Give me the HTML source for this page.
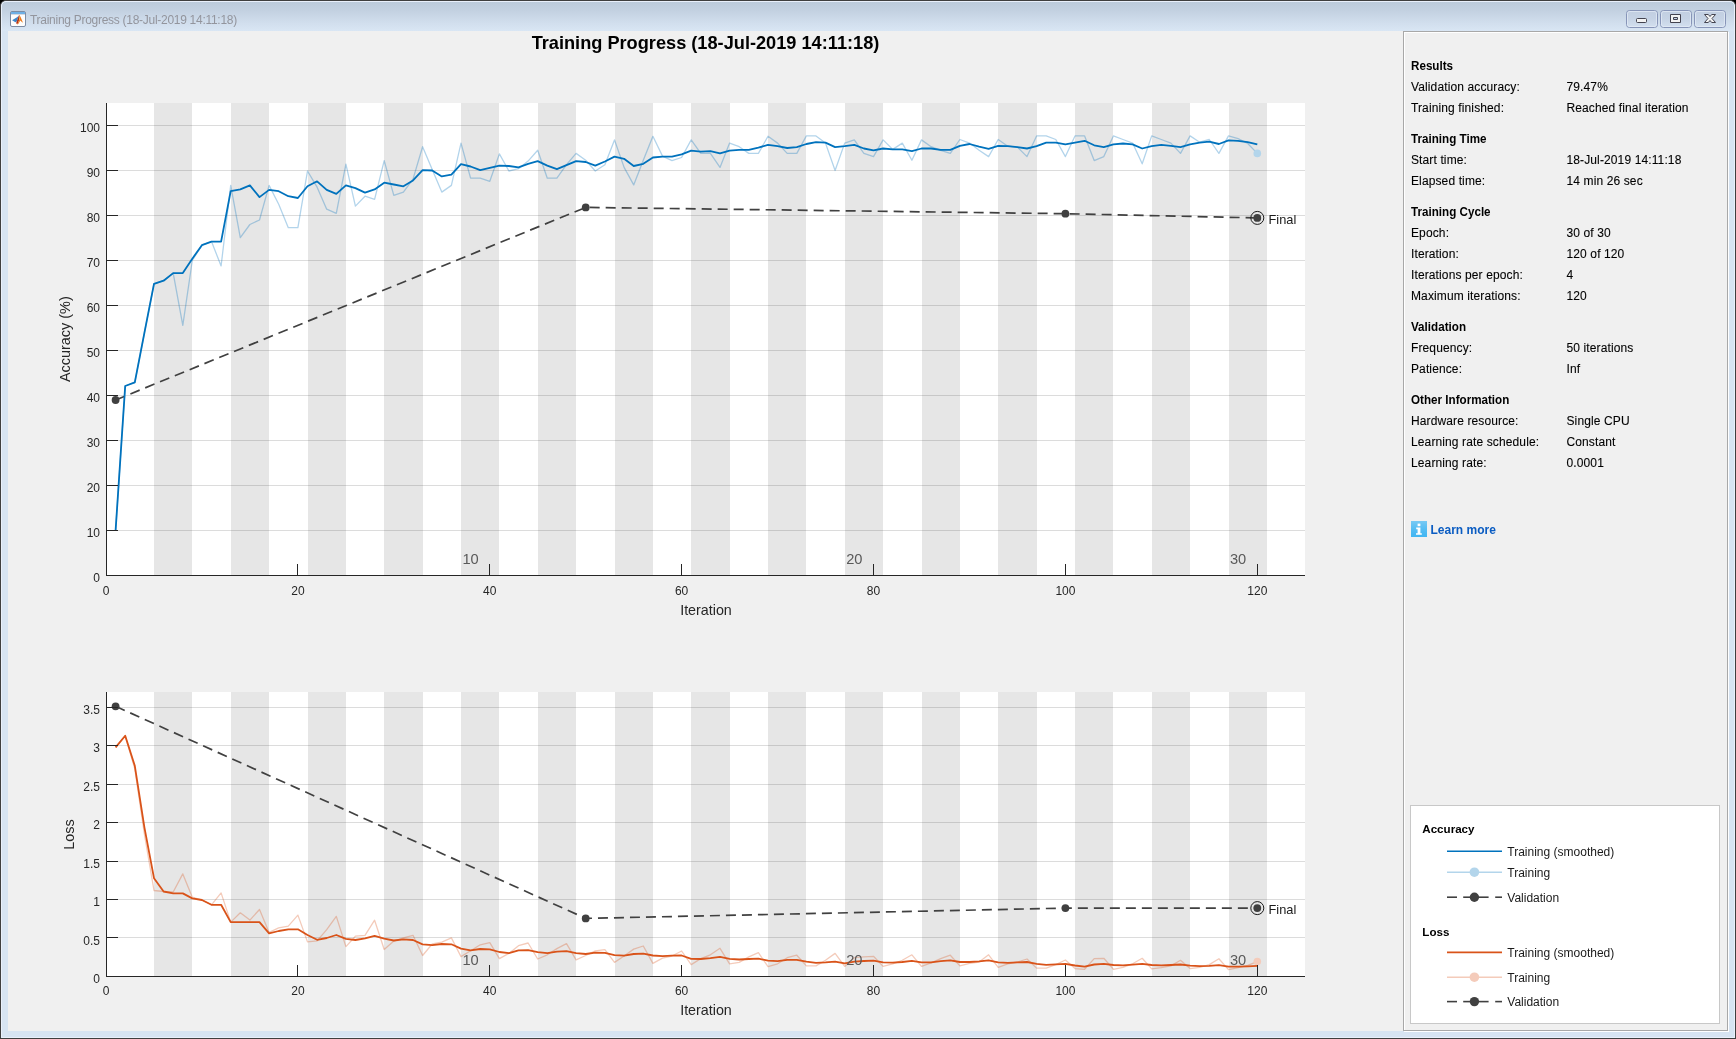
<!DOCTYPE html>
<html><head><meta charset="utf-8"><title>Training Progress</title>
<style>
html,body{margin:0;padding:0;}
body{width:1736px;height:1039px;overflow:hidden;background:#000;font-family:"Liberation Sans",sans-serif;position:relative;}
#win{position:absolute;left:0;top:0;width:1734px;height:1037px;border:1px solid #3f3f3f;border-radius:6px 6px 0 0;background:#d7e4f2;overflow:hidden;}
#hl{position:absolute;left:0;top:0;width:1732px;height:1035px;border:1px solid #e9f0fb;border-radius:5px 5px 0 0;}
#tb{position:absolute;left:1px;top:1px;width:1732px;height:29px;background:linear-gradient(#bccbdb 0%,#c3d1e1 30%,#d2dfee 75%,#d9e6f4 100%);}
#content{position:absolute;left:7px;top:30px;width:1720px;height:1000px;background:#f0f0f0;}
#ttl{position:absolute;left:29px;top:12px;font-size:12px;line-height:14px;color:#93959d;white-space:nowrap;letter-spacing:-0.28px;}
#pn1{position:absolute;left:1402px;top:30px;width:323px;height:998px;border:1px solid #a8a8a8;}
#pn2{position:absolute;left:1403px;top:31px;width:323px;height:998px;border:1px solid #fff;}
svg{position:absolute;left:0;top:0;will-change:transform;}
#ttl{will-change:transform;}
</style></head><body>
<div id="win">
<div id="tb"></div>
<div id="hl"></div>
<div id="content"></div>
<div id="pn2"></div><div id="pn1"></div>
<div id="ttl">Training Progress (18-Jul-2019 14:11:18)</div>

</div>
<svg width="1736" height="1039" viewBox="0 0 1736 1039">
<defs><linearGradient id="bg" x1="0" y1="0" x2="0" y2="1"><stop offset="0" stop-color="#c2cfe1"/><stop offset=".5" stop-color="#c6d3e5"/><stop offset="1" stop-color="#d3e0ef"/></linearGradient><linearGradient id="ig" x1="0" y1="0" x2="0" y2="1"><stop offset="0" stop-color="#fff" stop-opacity=".25"/><stop offset="1" stop-color="#0af" stop-opacity=".15"/></linearGradient></defs>
<g>
<rect x="10.5" y="11.5" width="15" height="15" rx="1.5" fill="#fdfdfd" stroke="#7d8ca3" stroke-width="1"/>
<rect x="11" y="12" width="14" height="2" fill="#6eb0e6"/>
<rect x="11" y="14" width="14" height="0.6" fill="#8a98ad" opacity=".6"/>
<path d="M12.1 20.2 L17.4 16.9 L18.9 15.4 L16.7 21.6 L15.4 22.3 Z" fill="#3f86c8"/>
<path d="M16.7 21.6 L18.9 15.4 L19.5 15 L19.4 19.6 L17.4 24.2 L16.1 23.2 Z" fill="#b4321b"/>
<path d="M19.5 15 L20.7 17.2 L23 22.7 L21.6 21.7 L20.3 20.4 L18.6 23.5 L17.2 24.7 L17.4 24.2 L19.4 19.6 Z" fill="#ec7a1c"/>
<path d="M19.4 16 L20 19.8 L19.2 20.4 Z" fill="#f9c233"/>
</g>
<g stroke="#8795b8" stroke-width="1" fill="url(#bg)">
<rect x="1626.5" y="10.5" width="31" height="17" rx="3"/><rect x="1660.5" y="10.5" width="31" height="17" rx="3"/><rect x="1694.5" y="10.5" width="31" height="17" rx="3"/>
</g>
<g stroke="#e3ebf6" stroke-opacity=".75" stroke-width="1" fill="none">
<rect x="1627.5" y="11.5" width="29" height="15" rx="2"/><rect x="1661.5" y="11.5" width="29" height="15" rx="2"/><rect x="1695.5" y="11.5" width="29" height="15" rx="2"/>
</g>
<g stroke="#43434f" stroke-width="1" fill="#f3f3f3" stroke-linejoin="round">
<rect x="1636.5" y="18.5" width="10" height="4" rx="1"/>
<path d="M1670.5 14.5h10v8h-10z M1673.5 17.5v2h4v-2z" fill-rule="evenodd"/>
<path d="M1704.5 14.5h3.8l1.7 2 1.7-2h3.8l-3.5 4 3.5 4h-3.8l-1.7-2-1.7 2h-3.8l3.5-4z"/>
</g>
<rect x="107.0" y="103.0" width="1198.0" height="472.0" fill="#fff" shape-rendering="crispEdges"/>
<rect x="154" y="103" width="38" height="472" fill="#e6e6e6" shape-rendering="crispEdges"/>
<rect x="231" y="103" width="38" height="472" fill="#e6e6e6" shape-rendering="crispEdges"/>
<rect x="308" y="103" width="38" height="472" fill="#e6e6e6" shape-rendering="crispEdges"/>
<rect x="384" y="103" width="39" height="472" fill="#e6e6e6" shape-rendering="crispEdges"/>
<rect x="461" y="103" width="38" height="472" fill="#e6e6e6" shape-rendering="crispEdges"/>
<rect x="538" y="103" width="38" height="472" fill="#e6e6e6" shape-rendering="crispEdges"/>
<rect x="615" y="103" width="38" height="472" fill="#e6e6e6" shape-rendering="crispEdges"/>
<rect x="691" y="103" width="39" height="472" fill="#e6e6e6" shape-rendering="crispEdges"/>
<rect x="768" y="103" width="38" height="472" fill="#e6e6e6" shape-rendering="crispEdges"/>
<rect x="845" y="103" width="38" height="472" fill="#e6e6e6" shape-rendering="crispEdges"/>
<rect x="922" y="103" width="38" height="472" fill="#e6e6e6" shape-rendering="crispEdges"/>
<rect x="998" y="103" width="39" height="472" fill="#e6e6e6" shape-rendering="crispEdges"/>
<rect x="1075" y="103" width="38" height="472" fill="#e6e6e6" shape-rendering="crispEdges"/>
<rect x="1152" y="103" width="38" height="472" fill="#e6e6e6" shape-rendering="crispEdges"/>
<rect x="1229" y="103" width="38" height="472" fill="#e6e6e6" shape-rendering="crispEdges"/>
<line x1="107" x2="1305" y1="530.5" y2="530.5" stroke="#262626" stroke-opacity="0.16" stroke-width="1" shape-rendering="crispEdges"/>
<line x1="107" x2="1305" y1="485.5" y2="485.5" stroke="#262626" stroke-opacity="0.16" stroke-width="1" shape-rendering="crispEdges"/>
<line x1="107" x2="1305" y1="440.5" y2="440.5" stroke="#262626" stroke-opacity="0.16" stroke-width="1" shape-rendering="crispEdges"/>
<line x1="107" x2="1305" y1="395.5" y2="395.5" stroke="#262626" stroke-opacity="0.16" stroke-width="1" shape-rendering="crispEdges"/>
<line x1="107" x2="1305" y1="350.5" y2="350.5" stroke="#262626" stroke-opacity="0.16" stroke-width="1" shape-rendering="crispEdges"/>
<line x1="107" x2="1305" y1="305.5" y2="305.5" stroke="#262626" stroke-opacity="0.16" stroke-width="1" shape-rendering="crispEdges"/>
<line x1="107" x2="1305" y1="260.5" y2="260.5" stroke="#262626" stroke-opacity="0.16" stroke-width="1" shape-rendering="crispEdges"/>
<line x1="107" x2="1305" y1="215.5" y2="215.5" stroke="#262626" stroke-opacity="0.16" stroke-width="1" shape-rendering="crispEdges"/>
<line x1="107" x2="1305" y1="170.5" y2="170.5" stroke="#262626" stroke-opacity="0.16" stroke-width="1" shape-rendering="crispEdges"/>
<line x1="107" x2="1305" y1="125.5" y2="125.5" stroke="#262626" stroke-opacity="0.16" stroke-width="1" shape-rendering="crispEdges"/>
<polyline points="115.6,530.4 125.2,386.0 134.8,382.4 144.4,332.9 154.0,283.9 163.6,280.7 173.2,273.1 182.8,325.3 192.3,260.5 201.9,245.2 211.5,241.6 221.1,265.9 230.7,185.4 240.3,237.6 249.9,224.5 259.5,220.0 269.1,185.4 278.7,204.3 288.3,227.7 297.9,227.7 307.5,171.0 317.1,187.2 326.7,209.2 336.3,213.3 345.9,164.2 355.4,206.1 365.0,196.2 374.6,199.3 384.2,160.6 393.8,195.3 403.4,192.1 413.0,179.1 422.6,146.7 432.2,169.6 441.8,192.1 451.4,185.4 461.0,143.1 470.6,178.2 480.2,178.2 489.8,181.3 499.4,153.9 508.9,171.0 518.5,168.7 528.1,161.1 537.7,150.3 547.3,178.2 556.9,178.2 566.5,164.7 576.1,153.4 585.7,160.2 595.3,171.0 604.9,164.7 614.5,139.9 624.1,167.4 633.7,184.9 643.3,160.2 652.9,136.3 662.5,156.1 672.0,160.6 681.6,157.5 691.2,139.9 700.8,153.4 710.4,153.4 720.0,167.4 729.6,143.1 739.2,146.7 748.8,153.4 758.4,153.4 768.0,136.3 777.6,143.1 787.2,153.4 796.8,153.4 806.4,135.9 816.0,135.9 825.5,143.1 835.1,170.5 844.7,143.1 854.3,139.9 863.9,153.4 873.5,156.6 883.1,139.9 892.7,149.4 902.3,143.1 911.9,160.2 921.5,139.9 931.1,146.7 940.7,150.3 950.3,153.4 959.9,139.5 969.5,143.1 979.1,150.3 988.6,156.6 998.2,139.5 1007.8,146.2 1017.4,147.1 1027.0,156.6 1036.6,135.9 1046.2,135.9 1055.8,139.5 1065.4,156.6 1075.0,135.9 1084.6,135.9 1094.2,160.6 1103.8,156.6 1113.4,135.9 1123.0,139.5 1132.6,143.1 1142.2,163.8 1151.7,135.9 1161.3,139.5 1170.9,143.1 1180.5,153.4 1190.1,135.9 1199.7,142.2 1209.3,139.5 1218.9,153.4 1228.5,135.9 1238.1,138.6 1247.7,143.5 1257.3,153.4" fill="none" stroke="#0072bd" stroke-opacity="0.3" stroke-width="1.3" stroke-linejoin="round"/>
<circle cx="1257.3" cy="153.4" r="3.8" fill="#b3d5eb"/>
<polyline points="115.6,400.0 585.7,207.4 1065.4,213.7 1257.3,217.9" fill="none" stroke="#404040" stroke-width="1.7" stroke-dasharray="10 6"/>
<polyline points="115.6,530.4 125.2,386.0 134.8,382.4 144.4,332.9 154.0,283.9 163.6,280.7 173.2,273.1 182.8,273.1 192.3,258.7 201.9,245.2 211.5,241.6 221.1,241.6 230.7,191.2 240.3,189.4 249.9,185.4 259.5,197.1 269.1,189.9 278.7,191.2 288.3,196.2 297.9,198.0 307.5,186.3 317.1,181.3 326.7,189.9 336.3,193.9 345.9,185.4 355.4,188.1 365.0,192.6 374.6,189.4 384.2,182.7 393.8,184.5 403.4,186.3 413.0,180.4 422.6,170.1 432.2,170.5 441.8,176.4 451.4,174.6 461.0,164.2 470.6,166.5 480.2,170.1 489.8,167.8 499.4,165.6 508.9,166.0 518.5,167.4 528.1,163.8 537.7,161.1 547.3,165.6 556.9,169.2 566.5,165.1 576.1,161.1 585.7,162.0 595.3,165.6 604.9,161.5 614.5,156.6 624.1,158.8 633.7,166.0 643.3,163.8 652.9,157.5 662.5,156.6 672.0,156.6 681.6,154.3 691.2,150.7 700.8,151.6 710.4,151.2 720.0,153.4 729.6,150.7 739.2,149.8 748.8,149.8 758.4,147.6 768.0,144.9 777.6,146.2 787.2,148.0 796.8,147.1 806.4,144.0 816.0,142.2 825.5,142.6 835.1,147.1 844.7,146.2 854.3,144.9 863.9,148.5 873.5,150.3 883.1,148.5 892.7,149.4 902.3,149.4 911.9,151.2 921.5,148.5 931.1,148.5 940.7,149.8 950.3,149.8 959.9,145.8 969.5,144.0 979.1,146.7 988.6,148.9 998.2,145.8 1007.8,146.2 1017.4,147.1 1027.0,148.5 1036.6,146.2 1046.2,142.6 1055.8,142.6 1065.4,144.4 1075.0,142.6 1084.6,140.8 1094.2,145.3 1103.8,147.1 1113.4,144.4 1123.0,143.5 1132.6,144.4 1142.2,148.5 1151.7,146.2 1161.3,144.9 1170.9,145.8 1180.5,147.1 1190.1,144.4 1199.7,142.6 1209.3,141.7 1218.9,144.0 1228.5,140.4 1238.1,140.8 1247.7,142.2 1257.3,144.4" fill="none" stroke="#0072bd" stroke-width="1.8" stroke-linejoin="round"/>
<circle cx="115.6" cy="400.0" r="3.9" fill="#404040"/>
<circle cx="585.7" cy="207.4" r="3.9" fill="#404040"/>
<circle cx="1065.4" cy="213.7" r="3.9" fill="#404040"/>
<circle cx="1257.3" cy="217.9" r="3.9" fill="#404040"/>
<circle cx="1257.3" cy="217.9" r="6.5" fill="none" stroke="#1a1a1a" stroke-width="1"/>
<text x="1268.5" y="223.6" font-family="Liberation Sans, sans-serif" font-size="12.8" fill="#1a1a1a">Final</text>
<text x="470.6" y="563.8" font-family="Liberation Sans, sans-serif" font-size="14.67" fill="#595959" text-anchor="middle">10</text>
<text x="854.3" y="563.8" font-family="Liberation Sans, sans-serif" font-size="14.67" fill="#595959" text-anchor="middle">20</text>
<text x="1238.1" y="563.8" font-family="Liberation Sans, sans-serif" font-size="14.67" fill="#595959" text-anchor="middle">30</text>
<line x1="106" x2="1305" y1="575.5" y2="575.5" stroke="#262626" stroke-width="1" shape-rendering="crispEdges"/>
<line x1="106.5" x2="106.5" y1="103" y2="576" stroke="#262626" stroke-width="1" shape-rendering="crispEdges"/>
<text x="106.0" y="595.2" font-family="Liberation Sans, sans-serif" font-size="12" fill="#262626" text-anchor="middle">0</text>
<line x1="297.5" x2="297.5" y1="563.9" y2="575.4" stroke="#262626" stroke-width="1" shape-rendering="crispEdges"/>
<text x="297.9" y="595.2" font-family="Liberation Sans, sans-serif" font-size="12" fill="#262626" text-anchor="middle">20</text>
<line x1="489.5" x2="489.5" y1="563.9" y2="575.4" stroke="#262626" stroke-width="1" shape-rendering="crispEdges"/>
<text x="489.8" y="595.2" font-family="Liberation Sans, sans-serif" font-size="12" fill="#262626" text-anchor="middle">40</text>
<line x1="681.5" x2="681.5" y1="563.9" y2="575.4" stroke="#262626" stroke-width="1" shape-rendering="crispEdges"/>
<text x="681.6" y="595.2" font-family="Liberation Sans, sans-serif" font-size="12" fill="#262626" text-anchor="middle">60</text>
<line x1="873.5" x2="873.5" y1="563.9" y2="575.4" stroke="#262626" stroke-width="1" shape-rendering="crispEdges"/>
<text x="873.5" y="595.2" font-family="Liberation Sans, sans-serif" font-size="12" fill="#262626" text-anchor="middle">80</text>
<line x1="1065.5" x2="1065.5" y1="563.9" y2="575.4" stroke="#262626" stroke-width="1" shape-rendering="crispEdges"/>
<text x="1065.4" y="595.2" font-family="Liberation Sans, sans-serif" font-size="12" fill="#262626" text-anchor="middle">100</text>
<line x1="1257.5" x2="1257.5" y1="563.9" y2="575.4" stroke="#262626" stroke-width="1" shape-rendering="crispEdges"/>
<text x="1257.3" y="595.2" font-family="Liberation Sans, sans-serif" font-size="12" fill="#262626" text-anchor="middle">120</text>
<text x="100" y="582.0" font-family="Liberation Sans, sans-serif" font-size="12" fill="#262626" text-anchor="end">0</text>
<line x1="107" x2="118" y1="530.5" y2="530.5" stroke="#262626" stroke-width="1" shape-rendering="crispEdges"/>
<text x="100" y="537.0" font-family="Liberation Sans, sans-serif" font-size="12" fill="#262626" text-anchor="end">10</text>
<line x1="107" x2="118" y1="485.5" y2="485.5" stroke="#262626" stroke-width="1" shape-rendering="crispEdges"/>
<text x="100" y="492.0" font-family="Liberation Sans, sans-serif" font-size="12" fill="#262626" text-anchor="end">20</text>
<line x1="107" x2="118" y1="440.5" y2="440.5" stroke="#262626" stroke-width="1" shape-rendering="crispEdges"/>
<text x="100" y="447.0" font-family="Liberation Sans, sans-serif" font-size="12" fill="#262626" text-anchor="end">30</text>
<line x1="107" x2="118" y1="395.5" y2="395.5" stroke="#262626" stroke-width="1" shape-rendering="crispEdges"/>
<text x="100" y="402.1" font-family="Liberation Sans, sans-serif" font-size="12" fill="#262626" text-anchor="end">40</text>
<line x1="107" x2="118" y1="350.5" y2="350.5" stroke="#262626" stroke-width="1" shape-rendering="crispEdges"/>
<text x="100" y="357.1" font-family="Liberation Sans, sans-serif" font-size="12" fill="#262626" text-anchor="end">50</text>
<line x1="107" x2="118" y1="305.5" y2="305.5" stroke="#262626" stroke-width="1" shape-rendering="crispEdges"/>
<text x="100" y="312.1" font-family="Liberation Sans, sans-serif" font-size="12" fill="#262626" text-anchor="end">60</text>
<line x1="107" x2="118" y1="260.5" y2="260.5" stroke="#262626" stroke-width="1" shape-rendering="crispEdges"/>
<text x="100" y="267.1" font-family="Liberation Sans, sans-serif" font-size="12" fill="#262626" text-anchor="end">70</text>
<line x1="107" x2="118" y1="215.5" y2="215.5" stroke="#262626" stroke-width="1" shape-rendering="crispEdges"/>
<text x="100" y="222.1" font-family="Liberation Sans, sans-serif" font-size="12" fill="#262626" text-anchor="end">80</text>
<line x1="107" x2="118" y1="170.5" y2="170.5" stroke="#262626" stroke-width="1" shape-rendering="crispEdges"/>
<text x="100" y="177.1" font-family="Liberation Sans, sans-serif" font-size="12" fill="#262626" text-anchor="end">90</text>
<line x1="107" x2="118" y1="125.5" y2="125.5" stroke="#262626" stroke-width="1" shape-rendering="crispEdges"/>
<text x="100" y="132.1" font-family="Liberation Sans, sans-serif" font-size="12" fill="#262626" text-anchor="end">100</text>
<text x="706.0" y="615.1" font-family="Liberation Sans, sans-serif" font-size="14.3" fill="#262626" text-anchor="middle">Iteration</text>
<text transform="translate(70.3,339.2) rotate(-90)" font-family="Liberation Sans, sans-serif" font-size="14.45" fill="#262626" text-anchor="middle">Accuracy (%)</text>
<rect x="107.0" y="692.0" width="1198.0" height="284.0" fill="#fff" shape-rendering="crispEdges"/>
<rect x="154" y="692" width="38" height="284" fill="#e6e6e6" shape-rendering="crispEdges"/>
<rect x="231" y="692" width="38" height="284" fill="#e6e6e6" shape-rendering="crispEdges"/>
<rect x="308" y="692" width="38" height="284" fill="#e6e6e6" shape-rendering="crispEdges"/>
<rect x="384" y="692" width="39" height="284" fill="#e6e6e6" shape-rendering="crispEdges"/>
<rect x="461" y="692" width="38" height="284" fill="#e6e6e6" shape-rendering="crispEdges"/>
<rect x="538" y="692" width="38" height="284" fill="#e6e6e6" shape-rendering="crispEdges"/>
<rect x="615" y="692" width="38" height="284" fill="#e6e6e6" shape-rendering="crispEdges"/>
<rect x="691" y="692" width="39" height="284" fill="#e6e6e6" shape-rendering="crispEdges"/>
<rect x="768" y="692" width="38" height="284" fill="#e6e6e6" shape-rendering="crispEdges"/>
<rect x="845" y="692" width="38" height="284" fill="#e6e6e6" shape-rendering="crispEdges"/>
<rect x="922" y="692" width="38" height="284" fill="#e6e6e6" shape-rendering="crispEdges"/>
<rect x="998" y="692" width="39" height="284" fill="#e6e6e6" shape-rendering="crispEdges"/>
<rect x="1075" y="692" width="38" height="284" fill="#e6e6e6" shape-rendering="crispEdges"/>
<rect x="1152" y="692" width="38" height="284" fill="#e6e6e6" shape-rendering="crispEdges"/>
<rect x="1229" y="692" width="38" height="284" fill="#e6e6e6" shape-rendering="crispEdges"/>
<line x1="107" x2="1305" y1="937.5" y2="937.5" stroke="#262626" stroke-opacity="0.16" stroke-width="1" shape-rendering="crispEdges"/>
<line x1="107" x2="1305" y1="899.5" y2="899.5" stroke="#262626" stroke-opacity="0.16" stroke-width="1" shape-rendering="crispEdges"/>
<line x1="107" x2="1305" y1="861.5" y2="861.5" stroke="#262626" stroke-opacity="0.16" stroke-width="1" shape-rendering="crispEdges"/>
<line x1="107" x2="1305" y1="822.5" y2="822.5" stroke="#262626" stroke-opacity="0.16" stroke-width="1" shape-rendering="crispEdges"/>
<line x1="107" x2="1305" y1="784.5" y2="784.5" stroke="#262626" stroke-opacity="0.16" stroke-width="1" shape-rendering="crispEdges"/>
<line x1="107" x2="1305" y1="745.5" y2="745.5" stroke="#262626" stroke-opacity="0.16" stroke-width="1" shape-rendering="crispEdges"/>
<line x1="107" x2="1305" y1="707.5" y2="707.5" stroke="#262626" stroke-opacity="0.16" stroke-width="1" shape-rendering="crispEdges"/>
<polyline points="115.6,747.4 125.2,735.8 134.8,768.9 144.4,834.2 154.0,890.5 163.6,891.5 173.2,892.0 182.8,873.9 192.3,897.2 201.9,900.0 211.5,904.8 221.1,892.9 230.7,922.1 240.3,912.8 249.9,920.1 259.5,909.5 269.1,932.4 278.7,927.9 288.3,926.1 297.9,915.1 307.5,941.9 317.1,940.9 326.7,929.7 336.3,916.4 345.9,946.6 355.4,936.2 365.0,935.3 374.6,920.2 384.2,949.5 393.8,941.1 403.4,937.9 413.0,935.3 422.6,955.5 432.2,944.0 441.8,942.2 451.4,937.9 461.0,956.6 470.6,950.8 480.2,944.8 489.8,942.6 499.4,958.6 508.9,953.4 518.5,945.7 528.1,943.0 537.7,959.0 547.3,954.8 556.9,948.6 566.5,943.7 576.1,959.8 585.7,955.5 595.3,950.8 604.9,949.7 614.5,962.4 624.1,956.0 633.7,949.1 643.3,946.0 652.9,963.4 662.5,958.1 672.0,956.0 681.6,951.0 691.2,964.6 700.8,958.6 710.4,954.8 720.0,948.3 729.6,963.8 739.2,962.4 748.8,956.9 758.4,952.6 768.0,966.7 777.6,963.8 787.2,957.7 796.8,955.2 806.4,965.9 816.0,965.9 825.5,960.3 835.1,953.4 844.7,966.4 854.3,957.7 863.9,956.9 873.5,956.3 883.1,966.4 892.7,963.8 902.3,960.3 911.9,954.8 921.5,966.4 931.1,962.9 940.7,958.6 950.3,955.2 959.9,965.9 969.5,963.4 979.1,962.0 988.6,954.8 998.2,967.3 1007.8,963.8 1017.4,962.0 1027.0,959.0 1036.6,968.1 1046.2,968.1 1055.8,964.6 1065.4,960.0 1075.0,968.6 1084.6,969.3 1094.2,958.6 1103.8,958.3 1113.4,969.3 1123.0,967.3 1132.6,963.8 1142.2,958.3 1151.7,968.9 1161.3,967.6 1170.9,965.9 1180.5,960.3 1190.1,968.6 1199.7,967.3 1209.3,964.6 1218.9,958.7 1228.5,969.6 1238.1,967.6 1247.7,965.3 1257.3,961.6" fill="none" stroke="#d95319" stroke-opacity="0.3" stroke-width="1.3" stroke-linejoin="round"/>
<circle cx="1257.3" cy="961.6" r="3.8" fill="#f4cbba"/>
<polyline points="115.6,706.3 585.7,918.4 1065.4,908.1 1257.3,908.1" fill="none" stroke="#404040" stroke-width="1.7" stroke-dasharray="10 6"/>
<polyline points="115.6,747.4 125.2,735.8 134.8,765.8 144.4,827.3 154.0,878.2 163.6,891.5 173.2,893.4 182.8,893.4 192.3,898.4 201.9,900.0 211.5,904.8 221.1,904.8 230.7,922.1 240.3,922.1 249.9,922.1 259.5,922.1 269.1,933.4 278.7,931.0 288.3,929.4 297.9,929.3 307.5,935.0 317.1,939.8 326.7,938.0 336.3,935.0 345.9,938.8 355.4,940.0 365.0,938.3 374.6,935.8 384.2,938.6 393.8,940.5 403.4,939.3 413.0,940.0 422.6,944.4 432.2,945.1 441.8,944.0 451.4,944.3 461.0,948.6 470.6,950.3 480.2,949.0 489.8,949.3 499.4,952.0 508.9,953.1 518.5,950.3 528.1,950.1 537.7,952.2 547.3,953.1 556.9,951.7 566.5,951.2 576.1,953.1 585.7,954.0 595.3,952.6 604.9,952.9 614.5,955.2 624.1,955.6 633.7,954.0 643.3,953.6 652.9,955.5 662.5,956.2 672.0,955.6 681.6,955.5 691.2,958.8 700.8,959.0 710.4,958.1 720.0,956.9 729.6,958.8 739.2,959.5 748.8,959.0 758.4,958.6 768.0,960.7 777.6,961.2 787.2,959.8 796.8,959.8 806.4,961.7 816.0,962.9 825.5,962.4 835.1,961.6 844.7,963.3 854.3,961.7 863.9,961.0 873.5,960.7 883.1,962.4 892.7,962.7 902.3,962.0 911.9,960.9 921.5,962.4 931.1,962.4 940.7,961.2 950.3,960.3 959.9,962.0 969.5,962.0 979.1,961.3 988.6,960.3 998.2,962.4 1007.8,962.9 1017.4,962.4 1027.0,962.0 1036.6,963.8 1046.2,964.8 1055.8,964.3 1065.4,963.8 1075.0,965.5 1084.6,966.6 1094.2,964.5 1103.8,963.8 1113.4,965.0 1123.0,965.3 1132.6,964.6 1142.2,963.8 1151.7,965.0 1161.3,965.3 1170.9,965.0 1180.5,964.5 1190.1,965.7 1199.7,966.2 1209.3,965.9 1218.9,965.1 1228.5,966.7 1238.1,966.7 1247.7,966.3 1257.3,965.9" fill="none" stroke="#d95319" stroke-width="1.8" stroke-linejoin="round"/>
<circle cx="115.6" cy="706.3" r="3.9" fill="#404040"/>
<circle cx="585.7" cy="918.4" r="3.9" fill="#404040"/>
<circle cx="1065.4" cy="908.1" r="3.9" fill="#404040"/>
<circle cx="1257.3" cy="908.1" r="3.9" fill="#404040"/>
<circle cx="1257.3" cy="908.1" r="6.5" fill="none" stroke="#1a1a1a" stroke-width="1"/>
<text x="1268.5" y="914.0" font-family="Liberation Sans, sans-serif" font-size="12.8" fill="#1a1a1a">Final</text>
<text x="470.6" y="964.8" font-family="Liberation Sans, sans-serif" font-size="14.67" fill="#595959" text-anchor="middle">10</text>
<text x="854.3" y="964.8" font-family="Liberation Sans, sans-serif" font-size="14.67" fill="#595959" text-anchor="middle">20</text>
<text x="1238.1" y="964.8" font-family="Liberation Sans, sans-serif" font-size="14.67" fill="#595959" text-anchor="middle">30</text>
<line x1="106" x2="1305" y1="976.5" y2="976.5" stroke="#262626" stroke-width="1" shape-rendering="crispEdges"/>
<line x1="106.5" x2="106.5" y1="692" y2="977" stroke="#262626" stroke-width="1" shape-rendering="crispEdges"/>
<text x="106.0" y="995.2" font-family="Liberation Sans, sans-serif" font-size="12" fill="#262626" text-anchor="middle">0</text>
<line x1="297.5" x2="297.5" y1="964.9" y2="976.4" stroke="#262626" stroke-width="1" shape-rendering="crispEdges"/>
<text x="297.9" y="995.2" font-family="Liberation Sans, sans-serif" font-size="12" fill="#262626" text-anchor="middle">20</text>
<line x1="489.5" x2="489.5" y1="964.9" y2="976.4" stroke="#262626" stroke-width="1" shape-rendering="crispEdges"/>
<text x="489.8" y="995.2" font-family="Liberation Sans, sans-serif" font-size="12" fill="#262626" text-anchor="middle">40</text>
<line x1="681.5" x2="681.5" y1="964.9" y2="976.4" stroke="#262626" stroke-width="1" shape-rendering="crispEdges"/>
<text x="681.6" y="995.2" font-family="Liberation Sans, sans-serif" font-size="12" fill="#262626" text-anchor="middle">60</text>
<line x1="873.5" x2="873.5" y1="964.9" y2="976.4" stroke="#262626" stroke-width="1" shape-rendering="crispEdges"/>
<text x="873.5" y="995.2" font-family="Liberation Sans, sans-serif" font-size="12" fill="#262626" text-anchor="middle">80</text>
<line x1="1065.5" x2="1065.5" y1="964.9" y2="976.4" stroke="#262626" stroke-width="1" shape-rendering="crispEdges"/>
<text x="1065.4" y="995.2" font-family="Liberation Sans, sans-serif" font-size="12" fill="#262626" text-anchor="middle">100</text>
<line x1="1257.5" x2="1257.5" y1="964.9" y2="976.4" stroke="#262626" stroke-width="1" shape-rendering="crispEdges"/>
<text x="1257.3" y="995.2" font-family="Liberation Sans, sans-serif" font-size="12" fill="#262626" text-anchor="middle">120</text>
<text x="100" y="983.0" font-family="Liberation Sans, sans-serif" font-size="12" fill="#262626" text-anchor="end">0</text>
<line x1="107" x2="118" y1="937.5" y2="937.5" stroke="#262626" stroke-width="1" shape-rendering="crispEdges"/>
<text x="100" y="944.6" font-family="Liberation Sans, sans-serif" font-size="12" fill="#262626" text-anchor="end">0.5</text>
<line x1="107" x2="118" y1="899.5" y2="899.5" stroke="#262626" stroke-width="1" shape-rendering="crispEdges"/>
<text x="100" y="906.1" font-family="Liberation Sans, sans-serif" font-size="12" fill="#262626" text-anchor="end">1</text>
<line x1="107" x2="118" y1="861.5" y2="861.5" stroke="#262626" stroke-width="1" shape-rendering="crispEdges"/>
<text x="100" y="867.7" font-family="Liberation Sans, sans-serif" font-size="12" fill="#262626" text-anchor="end">1.5</text>
<line x1="107" x2="118" y1="822.5" y2="822.5" stroke="#262626" stroke-width="1" shape-rendering="crispEdges"/>
<text x="100" y="829.3" font-family="Liberation Sans, sans-serif" font-size="12" fill="#262626" text-anchor="end">2</text>
<line x1="107" x2="118" y1="784.5" y2="784.5" stroke="#262626" stroke-width="1" shape-rendering="crispEdges"/>
<text x="100" y="790.9" font-family="Liberation Sans, sans-serif" font-size="12" fill="#262626" text-anchor="end">2.5</text>
<line x1="107" x2="118" y1="745.5" y2="745.5" stroke="#262626" stroke-width="1" shape-rendering="crispEdges"/>
<text x="100" y="752.4" font-family="Liberation Sans, sans-serif" font-size="12" fill="#262626" text-anchor="end">3</text>
<line x1="107" x2="118" y1="707.5" y2="707.5" stroke="#262626" stroke-width="1" shape-rendering="crispEdges"/>
<text x="100" y="714.0" font-family="Liberation Sans, sans-serif" font-size="12" fill="#262626" text-anchor="end">3.5</text>
<text x="706.0" y="1015.1" font-family="Liberation Sans, sans-serif" font-size="14.3" fill="#262626" text-anchor="middle">Iteration</text>
<text transform="translate(74.4,834.5) rotate(-90)" font-family="Liberation Sans, sans-serif" font-size="14.45" fill="#262626" text-anchor="middle">Loss</text>
<text x="705.5" y="48.9" font-family="Liberation Sans, sans-serif" font-size="18.2" font-weight="bold" fill="#000" text-anchor="middle">Training Progress (18-Jul-2019 14:11:18)</text>
<text transform="translate(1411,70) scale(0.925,1)" font-family="Liberation Sans, sans-serif" font-size="12.6" font-weight="bold" fill="#000">Results</text>
<text x="1411" y="91" font-family="Liberation Sans, sans-serif" font-size="12" fill="#000" stroke="#000" stroke-width="0.1" letter-spacing="0.12">Validation accuracy:</text>
<text x="1566.5" y="91" font-family="Liberation Sans, sans-serif" font-size="12" fill="#000" stroke="#000" stroke-width="0.1" letter-spacing="0.12">79.47%</text>
<text x="1411" y="112" font-family="Liberation Sans, sans-serif" font-size="12" fill="#000" stroke="#000" stroke-width="0.1" letter-spacing="0.12">Training finished:</text>
<text x="1566.5" y="112" font-family="Liberation Sans, sans-serif" font-size="12" fill="#000" stroke="#000" stroke-width="0.1" letter-spacing="0.12">Reached final iteration</text>
<text transform="translate(1411,143) scale(0.925,1)" font-family="Liberation Sans, sans-serif" font-size="12.6" font-weight="bold" fill="#000">Training Time</text>
<text x="1411" y="164" font-family="Liberation Sans, sans-serif" font-size="12" fill="#000" stroke="#000" stroke-width="0.1" letter-spacing="0.12">Start time:</text>
<text x="1566.5" y="164" font-family="Liberation Sans, sans-serif" font-size="12" fill="#000" stroke="#000" stroke-width="0.1" letter-spacing="0.12">18-Jul-2019 14:11:18</text>
<text x="1411" y="185" font-family="Liberation Sans, sans-serif" font-size="12" fill="#000" stroke="#000" stroke-width="0.1" letter-spacing="0.12">Elapsed time:</text>
<text x="1566.5" y="185" font-family="Liberation Sans, sans-serif" font-size="12" fill="#000" stroke="#000" stroke-width="0.1" letter-spacing="0.12">14 min 26 sec</text>
<text transform="translate(1411,216) scale(0.925,1)" font-family="Liberation Sans, sans-serif" font-size="12.6" font-weight="bold" fill="#000">Training Cycle</text>
<text x="1411" y="237" font-family="Liberation Sans, sans-serif" font-size="12" fill="#000" stroke="#000" stroke-width="0.1" letter-spacing="0.12">Epoch:</text>
<text x="1566.5" y="237" font-family="Liberation Sans, sans-serif" font-size="12" fill="#000" stroke="#000" stroke-width="0.1" letter-spacing="0.12">30 of 30</text>
<text x="1411" y="258" font-family="Liberation Sans, sans-serif" font-size="12" fill="#000" stroke="#000" stroke-width="0.1" letter-spacing="0.12">Iteration:</text>
<text x="1566.5" y="258" font-family="Liberation Sans, sans-serif" font-size="12" fill="#000" stroke="#000" stroke-width="0.1" letter-spacing="0.12">120 of 120</text>
<text x="1411" y="279" font-family="Liberation Sans, sans-serif" font-size="12" fill="#000" stroke="#000" stroke-width="0.1" letter-spacing="0.12">Iterations per epoch:</text>
<text x="1566.5" y="279" font-family="Liberation Sans, sans-serif" font-size="12" fill="#000" stroke="#000" stroke-width="0.1" letter-spacing="0.12">4</text>
<text x="1411" y="300" font-family="Liberation Sans, sans-serif" font-size="12" fill="#000" stroke="#000" stroke-width="0.1" letter-spacing="0.12">Maximum iterations:</text>
<text x="1566.5" y="300" font-family="Liberation Sans, sans-serif" font-size="12" fill="#000" stroke="#000" stroke-width="0.1" letter-spacing="0.12">120</text>
<text transform="translate(1411,331) scale(0.925,1)" font-family="Liberation Sans, sans-serif" font-size="12.6" font-weight="bold" fill="#000">Validation</text>
<text x="1411" y="352" font-family="Liberation Sans, sans-serif" font-size="12" fill="#000" stroke="#000" stroke-width="0.1" letter-spacing="0.12">Frequency:</text>
<text x="1566.5" y="352" font-family="Liberation Sans, sans-serif" font-size="12" fill="#000" stroke="#000" stroke-width="0.1" letter-spacing="0.12">50 iterations</text>
<text x="1411" y="373" font-family="Liberation Sans, sans-serif" font-size="12" fill="#000" stroke="#000" stroke-width="0.1" letter-spacing="0.12">Patience:</text>
<text x="1566.5" y="373" font-family="Liberation Sans, sans-serif" font-size="12" fill="#000" stroke="#000" stroke-width="0.1" letter-spacing="0.12">Inf</text>
<text transform="translate(1411,404) scale(0.925,1)" font-family="Liberation Sans, sans-serif" font-size="12.6" font-weight="bold" fill="#000">Other Information</text>
<text x="1411" y="425" font-family="Liberation Sans, sans-serif" font-size="12" fill="#000" stroke="#000" stroke-width="0.1" letter-spacing="0.12">Hardware resource:</text>
<text x="1566.5" y="425" font-family="Liberation Sans, sans-serif" font-size="12" fill="#000" stroke="#000" stroke-width="0.1" letter-spacing="0.12">Single CPU</text>
<text x="1411" y="446" font-family="Liberation Sans, sans-serif" font-size="12" fill="#000" stroke="#000" stroke-width="0.1" letter-spacing="0.12">Learning rate schedule:</text>
<text x="1566.5" y="446" font-family="Liberation Sans, sans-serif" font-size="12" fill="#000" stroke="#000" stroke-width="0.1" letter-spacing="0.12">Constant</text>
<text x="1411" y="467" font-family="Liberation Sans, sans-serif" font-size="12" fill="#000" stroke="#000" stroke-width="0.1" letter-spacing="0.12">Learning rate:</text>
<text x="1566.5" y="467" font-family="Liberation Sans, sans-serif" font-size="12" fill="#000" stroke="#000" stroke-width="0.1" letter-spacing="0.12">0.0001</text>
<rect x="1411" y="521" width="16" height="16" fill="#4db8f0"/>
<rect x="1411" y="521" width="16" height="16" fill="url(#ig)"/>
<rect x="1417.6" y="523.6" width="2.8" height="2.6" fill="#fff"/><path d="M1416.2 527.6h4.2v5.6h1.4v1.6h-5.8v-1.6h1.6v-4h-1.4z" fill="#fff"/>
<text x="1430.5" y="534" font-family="Liberation Sans, sans-serif" font-size="12" font-weight="bold" fill="#0a5cc2">Learn more</text>
<rect x="1410.5" y="805.5" width="309" height="218" fill="#fff" stroke="#c8c8c8" stroke-width="1" shape-rendering="crispEdges"/>
<text x="1422.3" y="832.8" font-family="Liberation Sans, sans-serif" font-size="11.6" font-weight="bold" fill="#000">Accuracy</text>
<line x1="1447" x2="1502" y1="851.3" y2="851.3" stroke="#0072bd" stroke-width="1.6"/>
<text x="1507.3" y="855.6" font-family="Liberation Sans, sans-serif" font-size="12" fill="#1a1a1a">Training (smoothed)</text>
<line x1="1447" x2="1502" y1="872.2" y2="872.2" stroke="#b3d5eb" stroke-width="1.5"/>
<circle cx="1474.4" cy="872.2" r="4.8" fill="#b3d5eb"/>
<text x="1507.3" y="876.5" font-family="Liberation Sans, sans-serif" font-size="12" fill="#1a1a1a">Training</text>
<line x1="1447.0" x2="1457.0" y1="897.2" y2="897.2" stroke="#404040" stroke-width="1.6"/>
<line x1="1463.2" x2="1488.6" y1="897.2" y2="897.2" stroke="#404040" stroke-width="1.6"/>
<line x1="1495.2" x2="1502.0" y1="897.2" y2="897.2" stroke="#404040" stroke-width="1.6"/>
<circle cx="1474.4" cy="897.2" r="4.7" fill="#404040"/>
<text x="1507.3" y="901.5" font-family="Liberation Sans, sans-serif" font-size="12" fill="#1a1a1a">Validation</text>
<text x="1422.3" y="935.5" font-family="Liberation Sans, sans-serif" font-size="11.6" font-weight="bold" fill="#000">Loss</text>
<line x1="1447" x2="1502" y1="952.4" y2="952.4" stroke="#d95319" stroke-width="1.6"/>
<text x="1507.3" y="956.6" font-family="Liberation Sans, sans-serif" font-size="12" fill="#1a1a1a">Training (smoothed)</text>
<line x1="1447" x2="1502" y1="977.2" y2="977.2" stroke="#f4cbba" stroke-width="1.5"/>
<circle cx="1474.4" cy="977.2" r="4.8" fill="#f4cbba"/>
<text x="1507.3" y="981.5" font-family="Liberation Sans, sans-serif" font-size="12" fill="#1a1a1a">Training</text>
<line x1="1447.0" x2="1457.0" y1="1001.6" y2="1001.6" stroke="#404040" stroke-width="1.6"/>
<line x1="1463.2" x2="1488.6" y1="1001.6" y2="1001.6" stroke="#404040" stroke-width="1.6"/>
<line x1="1495.2" x2="1502.0" y1="1001.6" y2="1001.6" stroke="#404040" stroke-width="1.6"/>
<circle cx="1474.4" cy="1001.6" r="4.7" fill="#404040"/>
<text x="1507.3" y="1005.6" font-family="Liberation Sans, sans-serif" font-size="12" fill="#1a1a1a">Validation</text>
</svg>
</body></html>
